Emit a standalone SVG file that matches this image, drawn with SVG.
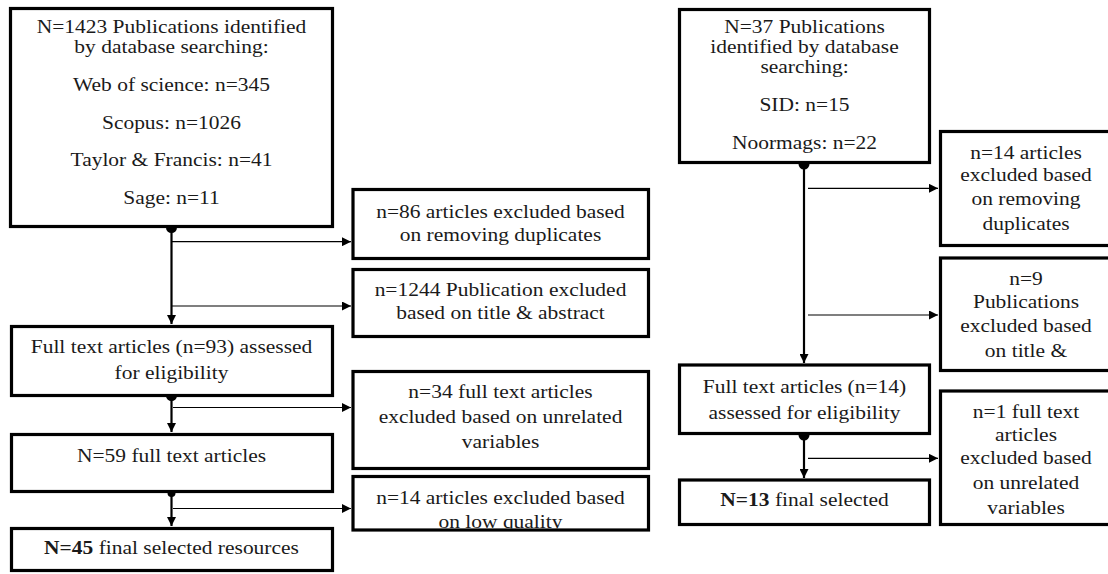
<svg xmlns="http://www.w3.org/2000/svg" width="1108" height="574" viewBox="0 0 1108 574">
<defs>
<style>
.box{fill:#fff;stroke:#000;stroke-width:3.2}
.t{font-family:'Liberation Serif','Times New Roman',serif;font-size:19px;fill:#1a1a1a;text-anchor:middle}
.b{font-weight:bold}
.main{stroke:#000;stroke-width:2.2;fill:none}
.br{stroke:#000;stroke-width:1.2;fill:none}
.dot{fill:#000}
</style>
<marker id="ah" viewBox="0 0 10 10" refX="10" refY="5" markerWidth="10" markerHeight="9" markerUnits="userSpaceOnUse" orient="auto">
<path d="M0,0 L10,5 L0,10 Z" fill="#000"/>
</marker>
<clipPath id="clipLow"><rect x="350" y="470" width="305" height="58.5"/></clipPath>
</defs>
<rect width="1108" height="574" fill="#fff"/>

<g id="connectors">
<line class="main" x1="171.5" y1="228" x2="171.5" y2="324" marker-end="url(#ah)"/>
<line class="br" x1="172" y1="241.7" x2="351" y2="241.7" marker-end="url(#ah)"/>
<line class="br" x1="172" y1="306" x2="351" y2="306" marker-end="url(#ah)"/>
<line class="main" x1="171.5" y1="397" x2="171.5" y2="432" marker-end="url(#ah)"/>
<line class="br" x1="173" y1="407.5" x2="351" y2="407.5" marker-end="url(#ah)"/>
<line class="main" x1="171.5" y1="493" x2="171.5" y2="526" marker-end="url(#ah)"/>
<line class="br" x1="173" y1="508.5" x2="351" y2="508.5" marker-end="url(#ah)"/>
<circle class="dot" cx="171.5" cy="227.5" r="5.5"/>
<circle class="dot" cx="171.5" cy="395.5" r="5.5"/>
<circle class="dot" cx="171.5" cy="493" r="4"/>

<line class="main" x1="804" y1="164" x2="804" y2="363" marker-end="url(#ah)"/>
<line class="br" x1="808" y1="188.3" x2="938" y2="188.3" marker-end="url(#ah)"/>
<line class="br" x1="808" y1="315" x2="938" y2="315" marker-end="url(#ah)"/>
<line class="main" x1="804" y1="435" x2="804" y2="478" marker-end="url(#ah)"/>
<line class="br" x1="808" y1="458.3" x2="938" y2="458.3" marker-end="url(#ah)"/>
<circle class="dot" cx="804" cy="164" r="5.5"/>
<circle class="dot" cx="804" cy="435" r="5.5"/>
</g>

<g id="n-identified">
<rect class="box" x="10.5" y="8.5" width="322" height="218"/>
<g transform="translate(171.5,0) scale(1.13,1)">
<text class="t" x="0" y="33">N=1423 Publications identified</text>
<text class="t" x="0" y="53">by database searching:</text>
<text class="t" x="0" y="91">Web of science: n=345</text>
<text class="t" x="0" y="129">Scopus: n=1026</text>
<text class="t" x="0" y="166">Taylor &amp; Francis: n=41</text>
<text class="t" x="0" y="204">Sage: n=11</text>
</g>
</g>

<g id="n-dup">
<rect class="box" x="353" y="189.5" width="295.5" height="69"/>
<g transform="translate(500.5,0) scale(1.13,1)">
<text class="t" x="0" y="218">n=86 articles excluded based</text>
<text class="t" x="0" y="241">on removing duplicates</text>
</g>
</g>

<g id="n-title">
<rect class="box" x="353" y="269.5" width="295.5" height="67"/>
<g transform="translate(500.5,0) scale(1.13,1)">
<text class="t" x="0" y="296">n=1244 Publication excluded</text>
<text class="t" x="0" y="319">based on title &amp; abstract</text>
</g>
</g>

<g id="n-fulltext93">
<rect class="box" x="11.5" y="326.5" width="321" height="69"/>
<g transform="translate(171.5,0) scale(1.13,1)">
<text class="t" x="0" y="353">Full text articles (n=93) assessed</text>
<text class="t" x="0" y="379">for eligibility</text>
</g>
</g>

<g id="n-unrelated34">
<rect class="box" x="353" y="371.5" width="295.5" height="97"/>
<g transform="translate(500.5,0) scale(1.13,1)">
<text class="t" x="0" y="398">n=34 full text articles</text>
<text class="t" x="0" y="423">excluded based on unrelated</text>
<text class="t" x="0" y="448">variables</text>
</g>
</g>

<g id="n-59">
<rect class="box" x="11.5" y="434.5" width="321" height="57"/>
<g transform="translate(171.5,0) scale(1.13,1)">
<text class="t" x="0" y="462">N=59 full text articles</text>
</g>
</g>

<g id="n-lowquality">
<rect class="box" x="353" y="476.5" width="295.5" height="53.5"/>
<g clip-path="url(#clipLow)">
<g transform="translate(500.5,0) scale(1.13,1)">
<text class="t" x="0" y="504">n=14 articles excluded based</text>
<text class="t" x="0" y="528">on low quality</text>
</g>
</g>
</g>

<g id="n-45">
<rect class="box" x="11.5" y="528.5" width="321" height="42"/>
<g transform="translate(171.5,0) scale(1.13,1)">
<text class="t" x="0" y="554"><tspan class="b">N=45</tspan> final selected resources</text>
</g>
</g>

<g id="r-identified">
<rect class="box" x="679.5" y="9.5" width="250" height="153"/>
<g transform="translate(804.5,0) scale(1.13,1)">
<text class="t" x="0" y="33">N=37 Publications</text>
<text class="t" x="0" y="53">identified by database</text>
<text class="t" x="0" y="73">searching:</text>
<text class="t" x="0" y="111">SID: n=15</text>
<text class="t" x="0" y="149">Noormags: n=22</text>
</g>
</g>

<g id="r-dup">
<rect class="box" x="940.5" y="131.5" width="200" height="114"/>
<g transform="translate(1026,0) scale(1.13,1)">
<text class="t" x="0" y="159">n=14 articles</text>
<text class="t" x="0" y="181">excluded based</text>
<text class="t" x="0" y="205.5">on removing</text>
<text class="t" x="0" y="230">duplicates</text>
</g>
</g>

<g id="r-title">
<rect class="box" x="940.5" y="258" width="200" height="112.5"/>
<g transform="translate(1026,0) scale(1.13,1)">
<text class="t" x="0" y="285.5">n=9</text>
<text class="t" x="0" y="308">Publications</text>
<text class="t" x="0" y="332">excluded based</text>
<text class="t" x="0" y="357">on title &amp;</text>
</g>
</g>

<g id="r-fulltext14">
<rect class="box" x="679.5" y="365" width="250" height="68.5"/>
<g transform="translate(804.5,0) scale(1.13,1)">
<text class="t" x="0" y="393">Full text articles (n=14)</text>
<text class="t" x="0" y="419">assessed for eligibility</text>
</g>
</g>

<g id="r-unrelated">
<rect class="box" x="940.5" y="391" width="200" height="133.5"/>
<g transform="translate(1026,0) scale(1.13,1)">
<text class="t" x="0" y="418">n=1 full text</text>
<text class="t" x="0" y="441">articles</text>
<text class="t" x="0" y="464.5">excluded based</text>
<text class="t" x="0" y="489.5">on unrelated</text>
<text class="t" x="0" y="514.5">variables</text>
</g>
</g>

<g id="r-13">
<rect class="box" x="679.5" y="480" width="250" height="44.5"/>
<g transform="translate(804.5,0) scale(1.13,1)">
<text class="t" x="0" y="506"><tspan class="b">N=13</tspan> final selected</text>
</g>
</g>
</svg>
